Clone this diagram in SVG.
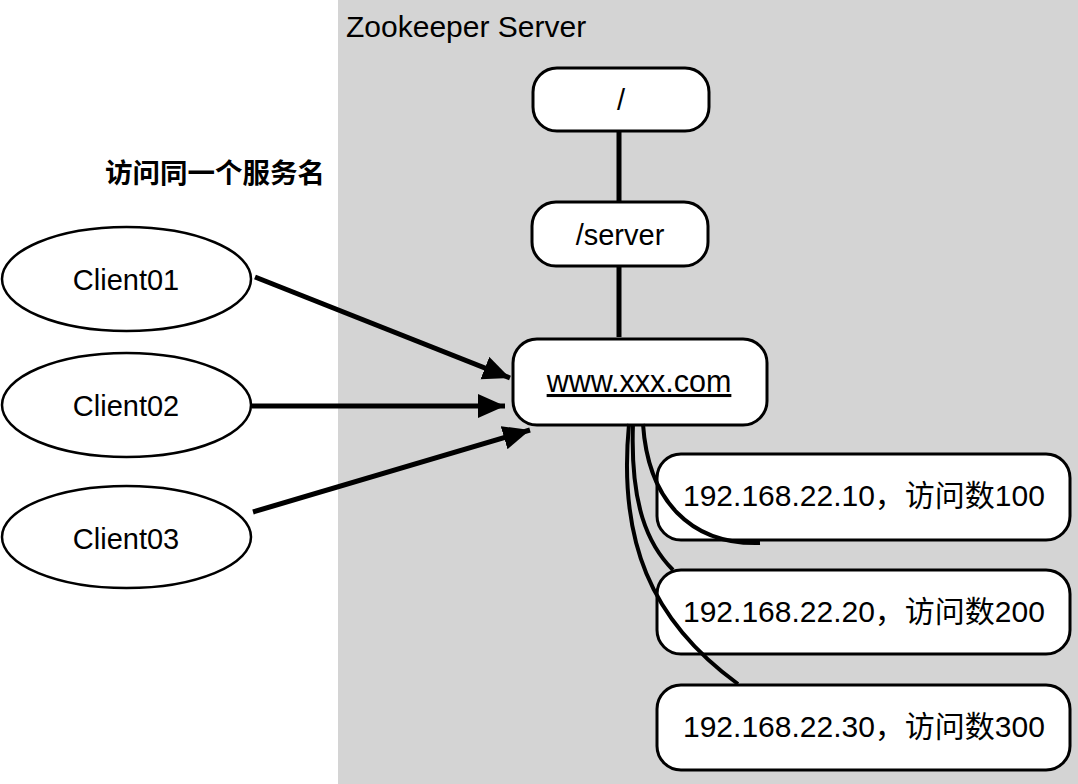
<svg xmlns="http://www.w3.org/2000/svg" width="1078" height="784" viewBox="0 0 1078 784">
<defs>
<style>
.t{font-family:"Liberation Sans",Arial,"Noto Sans CJK SC",sans-serif;font-size:29px;fill:#000}
.ip{font-size:30px}
.box{fill:#fff;stroke:#000;stroke-width:3}
.ell{fill:#fff;stroke:#000;stroke-width:2.5}
.edge{fill:none;stroke:#000;stroke-width:5}
.curve{fill:none;stroke:#000;stroke-width:4}
</style>
<marker id="arr" markerUnits="userSpaceOnUse" markerWidth="30" markerHeight="26" refX="27" refY="12" orient="auto">
<path d="M0,0 L27,12 L0,24 Z" fill="#000"/>
</marker>
</defs>
<rect width="1078" height="784" fill="#fff"/>
<g id="server-area">
<rect x="338" y="0" width="740" height="784" fill="#d4d4d4"/>
<text class="t" x="346" y="37" style="font-size:30px">Zookeeper Server</text>
</g>
<text class="t" x="105" y="183" style="font-weight:bold;font-size:27.5px;font-family:'Noto Sans CJK SC',sans-serif">访问同一个服务名</text>
<g id="connectors">
<line class="edge" x1="619" y1="131" x2="619" y2="202"/>
<line class="edge" x1="619" y1="266" x2="619" y2="337"/>
<line class="edge" x1="255" y1="277" x2="510" y2="378" marker-end="url(#arr)"/>
<line class="edge" x1="252" y1="406" x2="505" y2="406" marker-end="url(#arr)"/>
<line class="edge" x1="253" y1="512" x2="530" y2="430" marker-end="url(#arr)"/>
</g>
<g id="root"><rect class="box" x="533" y="68" width="176" height="63" rx="24"/><text class="t" x="621" y="110" text-anchor="middle">/</text></g>
<g id="server"><rect class="box" x="532" y="202" width="176" height="64" rx="24"/><text class="t" x="620" y="245" text-anchor="middle">/server</text></g>
<g id="client01"><ellipse class="ell" cx="126.5" cy="279" rx="124.5" ry="52"/><text class="t" x="126" y="290" text-anchor="middle">Client01</text></g>
<g id="client02"><ellipse class="ell" cx="126.5" cy="405" rx="124.5" ry="52"/><text class="t" x="126" y="416" text-anchor="middle">Client02</text></g>
<g id="client03"><ellipse class="ell" cx="126.5" cy="537" rx="124.5" ry="51"/><text class="t" x="126" y="549" text-anchor="middle">Client03</text></g>
<g id="ip1"><rect class="box" x="657" y="454" width="413" height="86" rx="24"/><text class="t ip" x="683" y="506">192.168.22.10，访问数100</text></g>
<g id="ip2"><rect class="box" x="657" y="570" width="413" height="84" rx="24"/><text class="t ip" x="683" y="622">192.168.22.20，访问数200</text></g>
<g id="ip3"><rect class="box" x="657" y="685" width="413" height="85" rx="24"/><text class="t ip" x="683" y="737">192.168.22.30，访问数300</text></g>
<g id="www"><rect class="box" x="513" y="339" width="254" height="86" rx="24"/><text class="t" x="639" y="392" text-anchor="middle" text-decoration="underline" style="font-size:30.5px">www.xxx.com</text></g>
<g id="curves">
<path class="curve" d="M643,424 C648,500 690,545 760,543"/>
<path class="curve" d="M633,424 C630,505 648,545 673,570"/>
<path class="curve" d="M629,424 C618,540 650,620 738,684"/>
</g>
</svg>
